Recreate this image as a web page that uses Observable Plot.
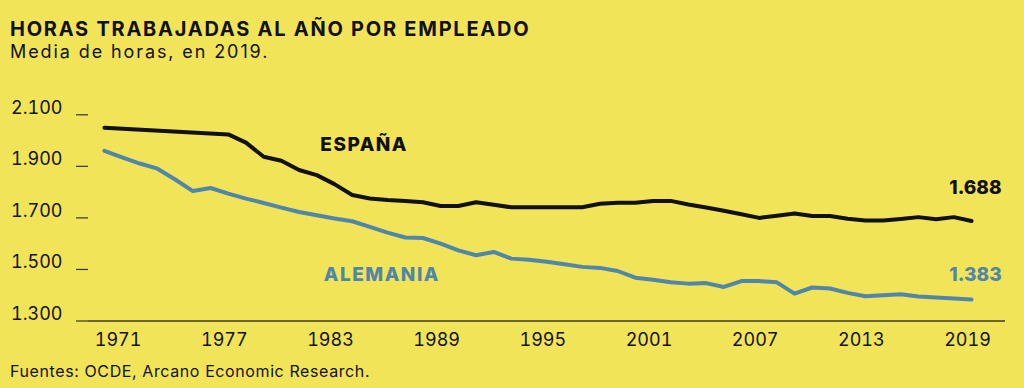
<!DOCTYPE html>
<html><head><meta charset="utf-8">
<script src="https://cdn.jsdelivr.net/npm/d3@7"></script>
<script src="https://cdn.jsdelivr.net/npm/@observablehq/plot@0.6"></script>
<style>
html,body{margin:0;padding:0;background:#f1e459;}
#wrap{position:relative;width:1024px;height:388px;overflow:hidden;background:#f1e459;font-family:Inter,"DejaVu Sans",sans-serif;color:#111;}
#title{position:absolute;left:10px;top:19px;font-weight:700;font-size:20px;line-height:20px;letter-spacing:1.75px;white-space:nowrap;}
#subtitle{position:absolute;left:10px;top:43px;font-weight:400;font-size:18px;line-height:18px;letter-spacing:1.9px;white-space:nowrap;}
#chart{position:absolute;left:0;top:90px;}
#caption{position:absolute;left:10px;top:363px;font-size:16px;line-height:16px;letter-spacing:0.6px;white-space:nowrap;}
</style></head>
<body>
<div id="wrap">
  <div id="title">HORAS TRABAJADAS AL AÑO POR EMPLEADO</div>
  <div id="subtitle">Media de horas, en 2019.</div>
  <div id="chart"></div>
  <div id="caption">Fuentes: OCDE, Arcano Economic Research.</div>
</div>
<script>
// ---- data ----
const spainYears = [1970,1977,1978,1979,1980,1981,1982,1983,1984,1985,1986,1987,1988,1989,1990,1991,1992,1993,1994,1995,1996,1997,1998,1999,2000,2001,2002,2003,2004,2005,2006,2007,2008,2009,2010,2011,2012,2013,2014,2015,2016,2017,2018,2019];
const spainHours = [2050,2024,1992,1937,1922,1886,1866,1831,1789,1775,1769,1766,1761,1746,1746,1761,1751,1741,1741,1741,1741,1741,1755,1759,1759,1766,1766,1752,1740,1728,1714,1700,1708,1717,1707,1707,1697,1690,1690,1696,1703,1695,1703,1688];
const germanyYears = [1970,1971,1972,1973,1974,1975,1976,1977,1978,1979,1980,1981,1982,1983,1984,1985,1986,1987,1988,1989,1990,1991,1992,1993,1994,1995,1996,1997,1998,1999,2000,2001,2002,2003,2004,2005,2006,2007,2008,2009,2010,2011,2012,2013,2014,2015,2016,2017,2018,2019];
const germanyHours = [1960,1935,1911,1891,1849,1804,1816,1794,1775,1758,1740,1723,1710,1698,1687,1665,1643,1624,1622,1600,1574,1555,1568,1542,1538,1530,1520,1510,1506,1494,1468,1460,1450,1445,1447,1432,1455,1455,1450,1406,1430,1426,1409,1396,1400,1404,1395,1391,1387,1383];
const yTicks = [1300,1500,1700,1900,2100];
const xTicks = [1971,1977,1983,1989,1995,2001,2007,2013,2019];
const seriesNames = ["ESPAÑA","ALEMANIA"];
const seriesColors = ["#111111","#4f86aa"];
const nameLabelYears = [1982.2,1982.4];
const nameLabelHours = [1984,1479];
const endLabelYear = 2020.7;
const endLabelHours = [1817,1479];
const endValues = [1688,1383];

const fmt = d => d3.format(",")(d).replace(/,/g,".");
const spain = spainYears.map((y,i)=>({year:y,hours:spainHours[i]}));
const germany = germanyYears.map((y,i)=>({year:y,hours:germanyHours[i]}));
const nameLabels = seriesNames.map((n,i)=>({text:n,year:nameLabelYears[i],hours:nameLabelHours[i],color:seriesColors[i]}));
const endLabels = endValues.map((v,i)=>({text:fmt(v),year:endLabelYear,hours:endLabelHours[i],color:seriesColors[i]}));

const chart = Plot.plot({
  width:1024, height:260,
  marginLeft:88, marginRight:19, marginTop:24.3, marginBottom:29.5,
  style:{background:"transparent", fontFamily:'Inter,"DejaVu Sans",sans-serif', color:"#111", overflow:"visible"},
  x:{domain:[1969.1,2020.92]},
  y:{domain:[1300,2100]},
  marks:[
    Plot.axisY({ticks:yTicks, anchor:"left", tickSize:12, text:null, stroke:"#333", strokeWidth:1.2, label:null}),
    Plot.axisY({ticks:yTicks, anchor:"left", tickSize:0, tickPadding:26, tickFormat:fmt, fontSize:18, dy:-7, label:null}),
    Plot.axisX({ticks:xTicks, anchor:"bottom", tickSize:0, tickPadding:12, dx:-4, tickFormat:d=>String(d), fontSize:18, label:null}),
    Plot.ruleY([1300], {stroke:"#3a3a2a", strokeWidth:1.5}),
    Plot.line(germany, {x:"year", y:"hours", stroke:seriesColors[1], strokeWidth:4, strokeLinejoin:"round", strokeLinecap:"round"}),
    Plot.line(spain, {x:"year", y:"hours", stroke:seriesColors[0], strokeWidth:4, strokeLinejoin:"round", strokeLinecap:"round"}),
    Plot.text(nameLabels, {x:"year", y:"hours", text:"text", fill:"color", textAnchor:"start", lineAnchor:"middle", fontSize:19, fontWeight:800}),
    Plot.text(endLabels, {x:"year", y:"hours", text:"text", fill:"color", textAnchor:"end", lineAnchor:"middle", fontSize:19, fontWeight:800})
  ]
});
d3.select(chart).selectAll("text").filter(function(){return seriesNames.includes(this.textContent);}).attr("letter-spacing","1.5px");
document.getElementById("chart").appendChild(chart);
</script>
</body></html>
